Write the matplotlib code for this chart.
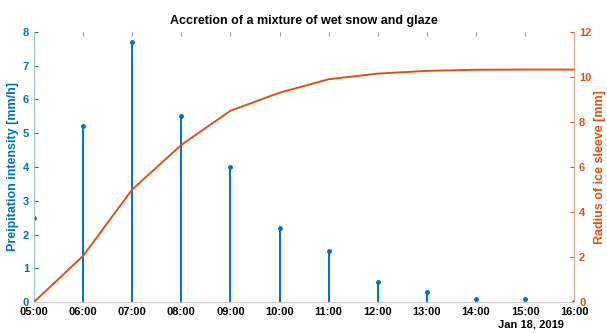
import numpy as np
import pandas as pd
import matplotlib
matplotlib.use("Agg")
import matplotlib.pyplot as plt
import matplotlib.dates as mdates

times = pd.date_range("2019-01-18 05:00", "2019-01-18 16:00", freq="h")
precip = [2.5, 5.2, 7.7, 5.5, 4.0, 2.2, 1.5, 0.6, 0.3, 0.1, 0.1, 0.0]
radius = [0.0, 2.05, 5.0, 6.98, 8.5, 9.3, 9.9, 10.15, 10.27, 10.32, 10.33, 10.33]

blue = "#0072BD"
orange = "#D95319"

plt.rcParams['font.family'] = ['Liberation Sans', 'DejaVu Sans']
plt.rcParams['font.weight'] = 'bold'

fig = plt.figure(figsize=(6.07, 3.33), dpi=100)
ax = fig.add_axes([0.056, 0.093, 0.890, 0.811])

ml, sl, bl = ax.stem(times, precip, basefmt=" ")
plt.setp(sl, color=blue, linewidth=1.4)
plt.setp(ml, color=blue, markersize=2.5)
ax.set_ylim(0, 8)
ax.set_xlim(times[0], times[-1])
ax.set_ylabel("Preipitation intensity [mm/h]", color=blue, fontsize=9, fontweight='bold', labelpad=3)
ax.tick_params(axis='y', colors=blue, direction='in', labelsize=8, length=3)
ax.tick_params(axis='x', direction='in', labelsize=8, length=3, top=True, color='#999999')
ax.xaxis.set_major_locator(mdates.HourLocator())
ax.xaxis.set_major_formatter(mdates.DateFormatter("%H:%M"))

ax2 = ax.twinx()
ax2.plot(times, radius, color=orange, linewidth=1.4)
ax2.set_ylim(0, 12)
ax2.set_yticks(range(0, 13, 2))
ax2.set_ylabel("Radius of ice sleeve [mm]", color=orange, fontsize=9, fontweight='bold', labelpad=2)
ax2.tick_params(axis='y', colors=orange, direction='in', labelsize=8, length=3)

for a in (ax, ax2):
    a.spines['top'].set_visible(False)
ax.spines['left'].set_color('#9cc3e0')
ax.spines['right'].set_visible(False)
ax2.spines['left'].set_visible(False)
ax2.spines['right'].set_color('#e0a88f')
ax2.spines['bottom'].set_color('#cccccc')
ax.spines['bottom'].set_color('#cccccc')

ax.set_title("Accretion of a mixture of wet snow and glaze", fontsize=9, fontweight='bold', pad=6)
fig.text(0.875, 0.01, "Jan 18, 2019", fontsize=8, fontweight='bold', ha='center', va='bottom')

fig.savefig("out.png", dpi=100)
